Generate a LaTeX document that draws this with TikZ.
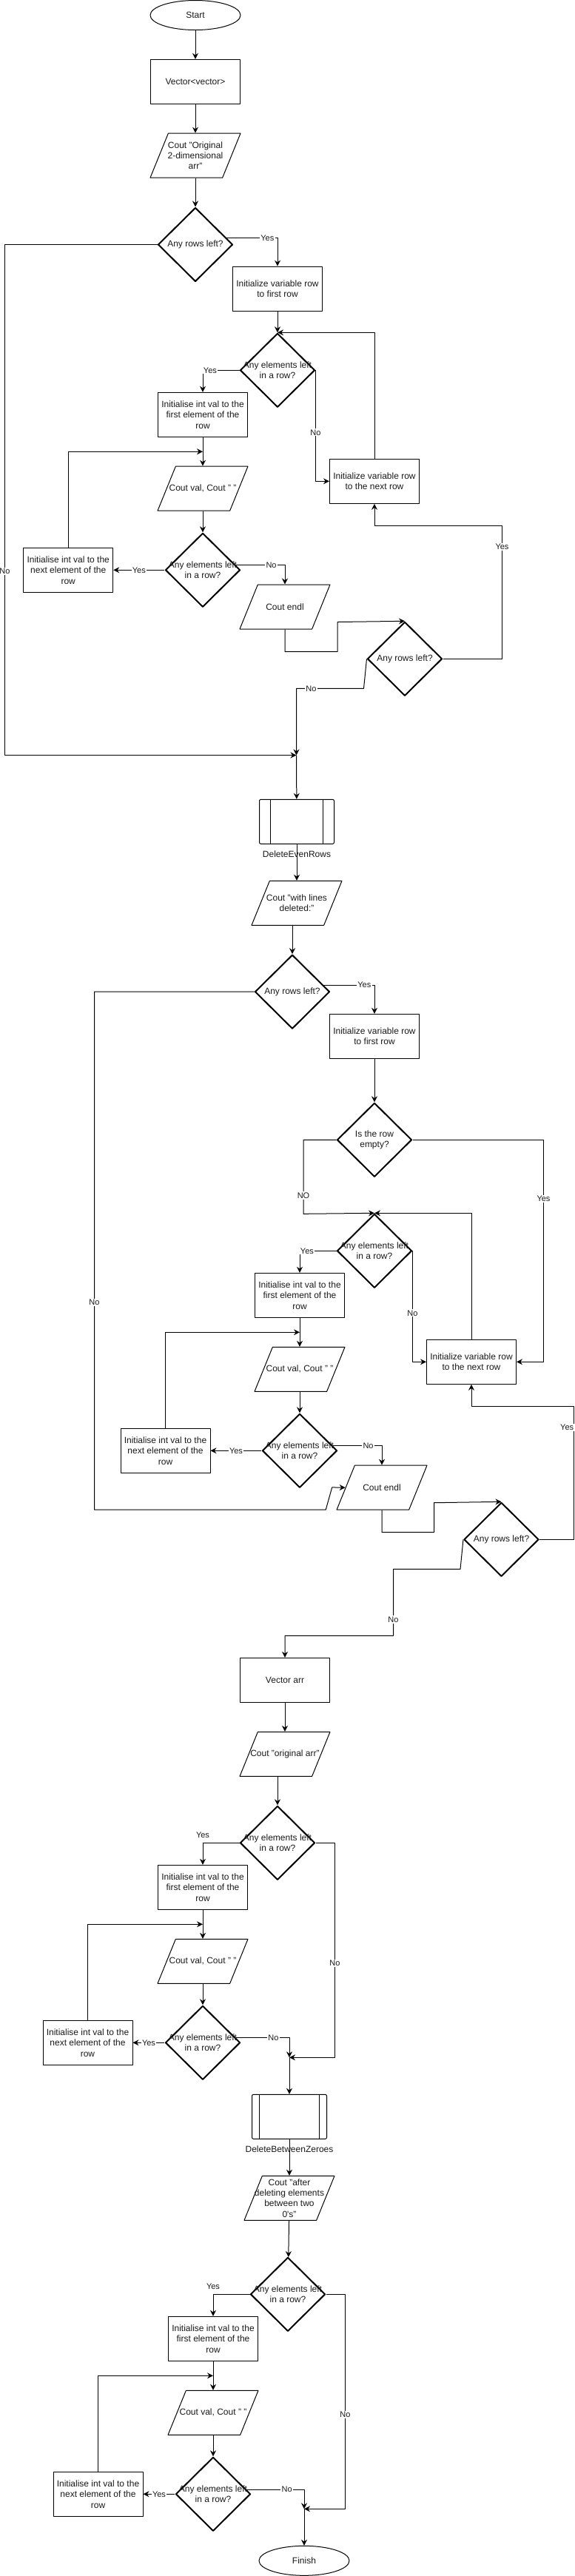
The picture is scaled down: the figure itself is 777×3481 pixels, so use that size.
\documentclass[tikz,border=0pt]{standalone}
\usepackage{fontspec}
\setmainfont{Liberation Sans}
\usetikzlibrary{shapes.geometric,arrows.meta,calc}
\begin{document}
\begin{tikzpicture}[x=0.75pt,y=-0.75pt,font=\fontsize{9}{10.8}\selectfont, line join=round, >={Stealth[length=6pt,width=6pt,inset=2pt]},
		every node/.style={text=black!90},
		box/.style={draw,line width=.75pt,minimum width=90.75pt,minimum height=45pt,inner sep=1pt,align=center},
		io/.style={trapezium,trapezium left angle=71.6,trapezium right angle=108.4,trapezium stretches,draw,line width=.75pt,minimum width=91.5pt,minimum height=45pt,inner sep=2pt,label={[align=center]center:{#1}}},
		decision/.style={diamond,draw,line width=1.5pt,minimum width=75.75pt,minimum height=75pt,inner sep=1pt,label={[align=center]center:{#1}}},
		term/.style={ellipse,draw,line width=.75pt,minimum width=91.5pt,minimum height=30pt},
		subproc/.style={draw,line width=.75pt,rounded corners=1.5pt,minimum width=75.75pt,minimum height=45pt,
			path picture={\draw[line width=.75pt] ([xshift=#1]path picture bounding box.north west) -- ([xshift=#1]path picture bounding box.south west);
				\draw[line width=.75pt] ([xshift=-#1]path picture bounding box.north east) -- ([xshift=-#1]path picture bounding box.south east);}},
		arr/.style={->,line width=.75pt},
		lbl/.style={fill=white,inner sep=1pt,font=\fontsize{8.25}{9.9}\selectfont}]
	\useasboundingbox (0,0) rectangle (777,3481);
	% print the 2D vector
	\node[term] (start) at (264,20.5) {Start};
	\node[box] (vec) at (264,110.3) {Vector<vector>};
	\node[io={Cout "Original\\2-dimensional\\arr"}] (coutorig) at (264,210.2) {};
	\node[decision={Any rows left?}] (rows1) at (264,330.5) {};
	\node[box] (initrow1) at (375,390.2) {Initialize variable row\\to first row};
	\node[decision={Any elements left\\in a row?}] (elem1) at (375,500.3) {};
	\node[box] (initfirst1) at (274,560.3) {Initialise int val to the\\first element of the\\row};
	\node[io={Cout val, Cout " "}] (coutval1) at (274,660.2) {};
	\node[decision={Any elements left\\in a row?}] (elemin1) at (274,770.3) {};
	\node[box] (initnext1) at (92.2,770.3) {Initialise int val to the\\next element of the\\row};
	\node[io={Cout endl}] (coutendl1) at (385,820) {};
	\node[box] (nextrow1) at (506,650.3) {Initialize variable row\\to the next row};
	\node[decision={Any rows left?}] (rows2) at (547,890.3) {};
	\coordinate (join1) at (400.5,1020.5);
	\node[subproc=10.9pt,label={[label distance=3.5pt]below:DeleteEvenRows}] (delEven) at (401,1110.3) {};
	% print after deleting even rows
	\node[io={Cout "with lines\\deleted:"}] (coutdel) at (401,1220.3) {};
	\node[decision={Any rows left?}] (rows3) at (395,1340.2) {};
	\node[box] (initrow2) at (506,1400.3) {Initialize variable row\\to first row};
	\node[decision={Is the row\\empty?}] (empty) at (506,1540.3) {};
	\node[decision={Any elements left\\in a row?}] (elem2) at (506,1690.3) {};
	\node[box] (initfirst2) at (405,1750.3) {Initialise int val to the\\first element of the\\row};
	\node[box] (nextrow2) at (637,1840.3) {Initialize variable row\\to the next row};
	\node[io={Cout val, Cout " "}] (coutval2) at (405,1850.3) {};
	\node[decision={Any elements left\\in a row?}] (elemin2) at (405,1960.3) {};
	\node[box] (initnext2) at (223.5,1960.3) {Initialise int val to the\\next element of the\\row};
	\node[io={Cout endl}] (coutendl2) at (516,2010.2) {};
	\node[decision={Any rows left?}] (rows4) at (677.5,2080.3) {};
	% 1D vector
	\node[box] (vecarr) at (385,2270.3) {Vector arr};
	\node[io={Cout "original arr"}] (coutarr) at (385,2370.3) {};
	\node[decision={Any elements left\\in a row?}] (elem3) at (375,2490.3) {};
	\node[box] (initfirst3) at (274,2550.3) {Initialise int val to the\\first element of the\\row};
	\node[io={Cout val, Cout " "}] (coutval3) at (274,2650.3) {};
	\node[decision={Any elements left\\in a row?}] (elemin3) at (274,2760.3) {};
	\node[box] (initnext3) at (118.5,2760.3) {Initialise int val to the\\next element of the\\row};
	\coordinate (join2) at (391,2780.3);
	\node[subproc=7.5pt,label={[label distance=3.5pt]below:DeleteBetweenZeroes}] (delZero) at (391,2860.3) {};
	\node[io={Cout "after\\deleting elements\\between two\\0\textquotesingle s"}] (coutafter) at (391,2970.3) {};
	\node[decision={Any elements left\\in a row?}] (elem4) at (389,3100.3) {};
	\node[box] (initfirst4) at (288,3160.3) {Initialise int val to the\\first element of the\\row};
	\node[io={Cout val, Cout " "}] (coutval4) at (288,3260.3) {};
	\node[decision={Any elements left\\in a row?}] (elemin4) at (288,3370.3) {};
	\node[box] (initnext4) at (132.5,3370.3) {Initialise int val to the\\next element of the\\row};
	\coordinate (join3) at (411,3390.3);
	\node[term] (finish) at (411,3460.3) {Finish};

	\draw[arr] (start) -- (vec);
	\draw[arr] (vec) -- (coutorig);
	\draw[arr] (coutorig) -- (rows1);
	\draw[arr] (rows1.12) -| node[lbl,pos=.4]{Yes} (initrow1.north);
	\draw[arr] (rows1.west) -| ++(-206,690) node[lbl,pos=.82]{No} -- (join1);
	\draw[arr] (initrow1) -- (elem1);
	\draw[arr] (elem1.west) -| node[lbl,pos=.4]{Yes} (initfirst1.north);
	\draw[arr] (elem1.east) |- node[lbl,pos=.28]{No} (nextrow1.west);
	\draw[arr] (nextrow1.north) |- (elem1.north);
	\draw[arr] (initfirst1) -- (coutval1);
	\draw[arr] (initnext1.north) |- ($(initfirst1.south)!.5!(coutval1.north)$);
	\draw[arr] (coutval1) -- (elemin1);
	\draw[arr] (elemin1) -- node[lbl]{Yes} (initnext1);
	\draw[arr] (elemin1.8) -| node[lbl,pos=.36]{No} (coutendl1.north);
	\draw[arr] (coutendl1.south) -- ++(0,30) -| ++(71,-40) -- (rows2.north);
	\draw[arr] (rows2.east) -| ++(80,-180) node[lbl,pos=.92]{Yes} -| (nextrow1.south);
	\draw[arr] (rows2.west) -- ++(-4,40) -| node[lbl,pos=.39]{No} (join1);
	\draw[arr] (join1) -- (delEven);
	\draw[arr] (delEven) -- (coutdel);
	\draw[arr] (coutdel.south -| rows3.north) -- (rows3.north);
	\draw[arr] (rows3.12) -| node[lbl,pos=.4]{Yes} (initrow2.north);
	\draw[arr] (rows3.west) -| ++(-216,700) node[lbl,pos=.8]{No} -- ++(312.7,0) -- ++(8.5,-30.3) -- (coutendl2.left side);
	\draw[arr] (initrow2) -- (empty);
	\draw[arr] (empty.west) -| ++(-44.5,100) node[lbl,pos=.875]{NO} -- (elem2.north);
	\draw[arr] (empty.east) -| ++(177,300) node[lbl,pos=.633]{Yes} -- (nextrow2.east);
	\draw[arr] (elem2.west) -| node[lbl,pos=.4]{Yes} (initfirst2.north);
	\draw[arr] (elem2.east) |- node[lbl,pos=.28]{No} (nextrow2.west);
	\draw[arr] (nextrow2.north) |- (elem2.north);
	\draw[arr] (initfirst2) -- (coutval2);
	\draw[arr] (initnext2.north) |- ($(initfirst2.south)!.5!(coutval2.north)$);
	\draw[arr] (coutval2) -- (elemin2);
	\draw[arr] (elemin2) -- node[lbl]{Yes} (initnext2);
	\draw[arr] (elemin2.8) -| node[lbl,pos=.36]{No} (coutendl2.north);
	\draw[arr] (coutendl2.south) -- ++(0,30) -| ++(70.5,-40) -- (rows4.north);
	\draw[arr] (rows4.east) -| ++(46,-180) node[lbl,pos=.92,anchor=east,xshift=1.5pt]{Yes} -| (nextrow2.south);
	\draw[arr] (rows4.west) -- ++(-4,40) -| ++(-90.5,90) node[lbl,pos=.878]{No} -| (vecarr.north);
	\draw[arr] (vecarr) -- (coutarr);
	\draw[arr] (coutarr.south -| elem3.north) -- (elem3.north);
	\draw[arr] (elem3.west) -| node[lbl,pos=.5,above=3.5pt,fill=none]{Yes} (initfirst3.north);
	\draw[arr] (elem3.east) -| ++(26,290) node[lbl,pos=.78]{No} -- (join2);
	\draw[arr] (initfirst3) -- (coutval3);
	\draw[arr] (initnext3.north) |- ($(initfirst3.south)!.5!(coutval3.north)$);
	\draw[arr] (coutval3) -- (elemin3);
	\draw[arr] (elemin3) -- node[lbl]{Yes} (initnext3);
	\draw[arr] (elemin3.8) -| node[lbl,pos=.35]{No} (join2);
	\draw[arr] (join2) -- (delZero);
	\draw[arr] (delZero) -- (coutafter);
	\draw[arr] (coutafter) -- (elem4);
	\draw[arr] (elem4.west) -| node[lbl,pos=.5,above=3.5pt,fill=none]{Yes} (initfirst4.north);
	\draw[arr] (elem4.east) -| ++(26,290) node[lbl,pos=.78]{No} -- (join3);
	\draw[arr] (initfirst4) -- (coutval4);
	\draw[arr] (initnext4.north) |- ($(initfirst4.south)!.5!(coutval4.north)$);
	\draw[arr] (coutval4) -- (elemin4);
	\draw[arr] (elemin4) -- node[lbl]{Yes} (initnext4);
	\draw[arr] (elemin4.8) -| node[lbl,pos=.35]{No} (join3);
	\draw[arr] (join3) -- (finish);
\end{tikzpicture}
\end{document}
